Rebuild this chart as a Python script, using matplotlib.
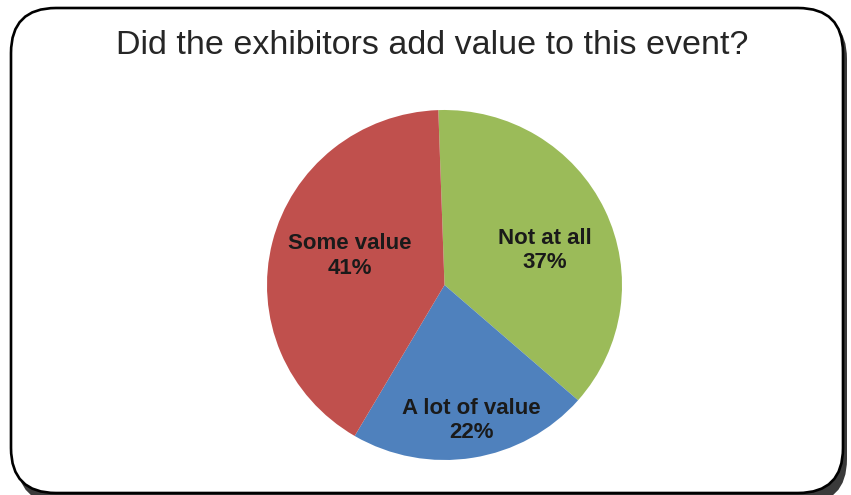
import matplotlib.pyplot as plt
from matplotlib.patches import FancyBboxPatch
import numpy as np

plt.rcParams['font.family'] = ['Liberation Sans', 'DejaVu Sans']

title = "Did the exhibitors add value to this event?"
labels = ["Not at all", "A lot of value", "Some value"]
values = [37, 22, 41]
colors = ["#9BBB59", "#4F81BD", "#C0504D"]

W, H = 851, 495
fig = plt.figure(figsize=(W / 100, H / 100), dpi=100)

# background axes in pixel coords for the frame
bg = fig.add_axes([0, 0, 1, 1])
bg.set_xlim(0, W)
bg.set_ylim(H, 0)
bg.axis("off")

shadow = FancyBboxPatch((17, 14), 830, 490, boxstyle="round,pad=0,rounding_size=45",
                        fc="#3a3a3a", ec="none", zorder=1)
bg.add_patch(shadow)
frame = FancyBboxPatch((11, 8), 832, 485, boxstyle="round,pad=0,rounding_size=45",
                       fc="white", ec="black", lw=1.9, zorder=2)
bg.add_patch(frame)

bg.text(432, 45, title, ha="center", va="center", fontsize=24.5, color="#262626", zorder=3)

# pie axes
cx, cy, rx, ry = 444.5, 285, 177.5, 175
ax = fig.add_axes([(cx - rx) / W, 1 - (cy + ry) / H, 2 * rx / W, 2 * ry / H])
wedges, _ = ax.pie(values, colors=colors, startangle=92, counterclock=False,
                   wedgeprops=dict(linewidth=0))
ax.set_aspect("auto")
ax.set_xlim(-1, 1)
ax.set_ylim(-1, 1)

dist = [0.60, 0.79, 0.56]
shift = [-6, 2, -3]
for w, lab, v, d, s in zip(wedges, labels, values, dist, shift):
    th = np.deg2rad((w.theta1 + w.theta2) / 2 + s)
    ax.text(d * np.cos(th), d * np.sin(th), f"{lab}\n{v}%", ha="center", va="center",
            fontsize=16, fontweight="bold", color="#1a1a1a", linespacing=1.2)

plt.savefig("out.png", dpi=100)
